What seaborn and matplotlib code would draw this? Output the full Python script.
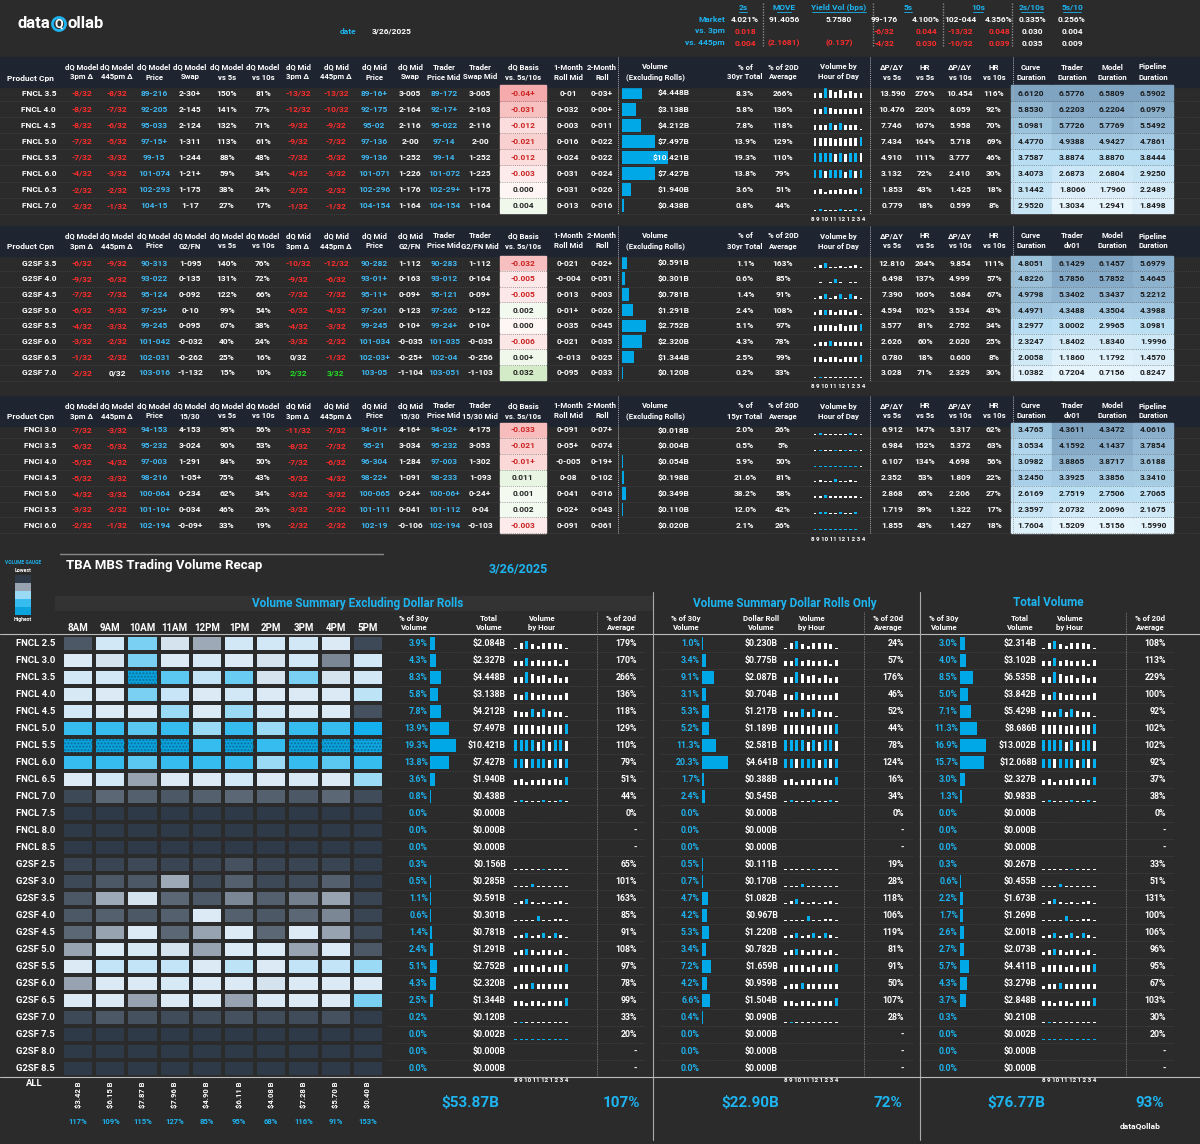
import numpy as np
import matplotlib
matplotlib.use("Agg")
import matplotlib.pyplot as plt
from matplotlib.patches import Rectangle
from matplotlib.colors import LinearSegmentedColormap, to_rgb
import seaborn as sns

sns.set_theme(style="dark")
plt.rcParams['font.family'] = ['Roboto', 'DejaVu Sans']

BG = '#2b2b2b'
HEAD = '#1e2531'
CYAN = '#1eb4f0'
BLUE = '#3fb8f2'
RED = '#ff2b2b'
GREEN = '#22dd22'
W, H = 1200, 1144

# ---------------- data: top tables ----------------
fncl_rows = [
    ["FNCL 3.5", "-8/32", "-8/32", "89-216", "2-30+", "150%", "81%", "-13/32", "-13/32", "89-16+", "3-005", "89-172", "3-005", "-0.04+", "0-01", "0-03+", 4.448, "8.3%", "266%", "13.590", "276%", "10.454", "116%", 6.6120, 6.5776, 6.5809, 6.5902],
    ["FNCL 4.0", "-8/32", "-7/32", "92-205", "2-145", "141%", "77%", "-12/32", "-10/32", "92-175", "2-164", "92-17+", "2-163", "-0.031", "0-032", "0-00+", 3.138, "5.8%", "136%", "10.476", "220%", "8.059", "92%", 5.8530, 6.2203, 6.2204, 6.0979],
    ["FNCL 4.5", "-8/32", "-6/32", "95-033", "2-124", "132%", "71%", "-9/32", "-9/32", "95-02", "2-116", "95-022", "2-116", "-0.012", "0-003", "0-011", 4.212, "7.8%", "118%", "7.746", "167%", "5.958", "70%", 5.0981, 5.7726, 5.7769, 5.5492],
    ["FNCL 5.0", "-7/32", "-5/32", "97-15+", "1-311", "113%", "61%", "-9/32", "-7/32", "97-136", "2-00", "97-14", "2-00", "-0.021", "0-016", "0-022", 7.497, "13.9%", "129%", "7.434", "164%", "5.718", "69%", 4.4770, 4.9388, 4.9427, 4.7861],
    ["FNCL 5.5", "-7/32", "-3/32", "99-15", "1-244", "88%", "48%", "-7/32", "-5/32", "99-136", "1-252", "99-14", "1-252", "-0.012", "0-024", "0-022", 10.421, "19.3%", "110%", "4.910", "111%", "3.777", "46%", 3.7587, 3.8874, 3.8870, 3.8444],
    ["FNCL 6.0", "-4/32", "-3/32", "101-074", "1-21+", "59%", "34%", "-4/32", "-3/32", "101-071", "1-226", "101-072", "1-225", "-0.003", "0-031", "0-024", 7.427, "13.8%", "79%", "3.132", "72%", "2.410", "30%", 3.4073, 2.6873, 2.6804, 2.9250],
    ["FNCL 6.5", "-2/32", "-2/32", "102-293", "1-175", "38%", "24%", "-2/32", "-2/32", "102-296", "1-176", "102-29+", "1-175", "0.000", "0-031", "0-026", 1.940, "3.6%", "51%", "1.853", "43%", "1.425", "18%", 3.1442, 1.8066, 1.7960, 2.2489],
    ["FNCL 7.0", "-2/32", "-1/32", "104-15", "1-17", "27%", "17%", "-1/32", "-1/32", "104-154", "1-164", "104-154", "1-164", "0.004", "0-013", "0-016", 0.438, "0.8%", "44%", "0.779", "18%", "0.599", "8%", 2.9520, 1.3034, 1.2941, 1.8498],
]
g2sf_rows = [
    ["G2SF 3.5", "-6/32", "-9/32", "90-313", "1-095", "140%", "76%", "-10/32", "-12/32", "90-282", "1-112", "90-283", "1-112", "-0.032", "0-021", "0-02+", 0.591, "1.1%", "163%", "12.810", "264%", "9.854", "111%", 4.8051, 6.1429, 6.1457, 5.6979],
    ["G2SF 4.0", "-9/32", "-6/32", "93-022", "0-135", "131%", "72%", "-9/32", "-6/32", "93-01+", "0-163", "93-012", "0-164", "-0.005", "-0-004", "0-051", 0.301, "0.6%", "85%", "6.498", "137%", "4.999", "57%", 4.8226, 5.7856, 5.7852, 5.4645],
    ["G2SF 4.5", "-7/32", "-7/32", "95-124", "0-092", "122%", "66%", "-7/32", "-7/32", "95-11+", "0-09+", "95-121", "0-09+", "-0.005", "0-013", "0-003", 0.781, "1.4%", "91%", "7.390", "160%", "5.684", "67%", 4.9798, 5.3402, 5.3437, 5.2212],
    ["G2SF 5.0", "-6/32", "-5/32", "97-25+", "0-10", "99%", "54%", "-6/32", "-4/32", "97-261", "0-123", "97-262", "0-122", "0.002", "0-01+", "0-026", 1.291, "2.4%", "108%", "4.594", "102%", "3.534", "43%", 4.4971, 4.3488, 4.3504, 4.3988],
    ["G2SF 5.5", "-4/32", "-3/32", "99-245", "0-095", "67%", "38%", "-4/32", "-3/32", "99-245", "0-10+", "99-24+", "0-10+", "0.000", "0-035", "0-045", 2.752, "5.1%", "97%", "3.577", "81%", "2.752", "34%", 3.2977, 3.0002, 2.9965, 3.0981],
    ["G2SF 6.0", "-3/32", "-2/32", "101-042", "-0-032", "40%", "24%", "-3/32", "-2/32", "101-034", "-0-035", "101-035", "-0-035", "-0.006", "0-021", "0-035", 2.320, "4.3%", "78%", "2.626", "60%", "2.020", "25%", 2.3247, 1.8402, 1.8340, 1.9996],
    ["G2SF 6.5", "-1/32", "-2/32", "102-031", "-0-262", "25%", "16%", "0/32", "-1/32", "102-03+", "-0-25+", "102-04", "-0-256", "0.00+", "-0-013", "0-025", 1.344, "2.5%", "99%", "0.780", "18%", "0.600", "8%", 2.0058, 1.1860, 1.1792, 1.4570],
    ["G2SF 7.0", "-2/32", "0/32", "103-016", "-1-132", "15%", "10%", "2/32", "3/32", "103-05", "-1-104", "103-051", "-1-103", "0.032", "0-095", "0-033", 0.120, "0.2%", "33%", "3.028", "71%", "2.329", "30%", 1.0382, 0.7204, 0.7156, 0.8247],
]
fnci_rows = [
    ["FNCI 3.0", "-7/32", "-3/32", "94-153", "4-153", "95%", "56%", "-11/32", "-7/32", "94-01+", "4-16+", "94-02+", "4-175", "-0.033", "0-091", "0-07+", 0.018, "2.0%", "26%", "6.912", "147%", "5.317", "62%", 3.4765, 4.3611, 4.3472, 4.0616],
    ["FNCI 3.5", "-6/32", "-5/32", "95-232", "3-024", "90%", "53%", "-8/32", "-7/32", "95-21", "3-034", "95-232", "3-053", "-0.021", "0-05+", "0-074", 0.004, "0.5%", "5%", "6.984", "152%", "5.372", "63%", 3.0534, 4.1592, 4.1437, 3.7854],
    ["FNCI 4.0", "-5/32", "-4/32", "97-003", "1-291", "84%", "50%", "-7/32", "-6/32", "96-304", "1-284", "97-003", "1-302", "-0.01+", "-0-005", "0-19+", 0.054, "5.9%", "50%", "6.107", "134%", "4.698", "56%", 3.0982, 3.8865, 3.8717, 3.6188],
    ["FNCI 4.5", "-5/32", "-3/32", "98-216", "1-05+", "75%", "43%", "-5/32", "-4/32", "98-22+", "1-091", "98-233", "1-093", "0.011", "0-08", "0-102", 0.198, "21.6%", "81%", "2.352", "53%", "1.809", "22%", 3.2450, 3.3925, 3.3856, 3.3410],
    ["FNCI 5.0", "-4/32", "-3/32", "100-064", "0-234", "62%", "34%", "-3/32", "-3/32", "100-065", "0-24+", "100-06+", "0-24+", "0.001", "0-041", "0-016", 0.349, "38.2%", "58%", "2.868", "65%", "2.206", "27%", 2.6169, 2.7519, 2.7506, 2.7065],
    ["FNCI 5.5", "-3/32", "-2/32", "101-10+", "0-034", "46%", "26%", "-3/32", "-2/32", "101-111", "0-041", "101-112", "0-04", "0.002", "0-02+", "0-043", 0.110, "12.0%", "42%", "1.719", "39%", "1.322", "17%", 2.3597, 2.0732, 2.0696, 2.1675],
    ["FNCI 6.0", "-2/32", "-1/32", "102-194", "-0-09+", "33%", "19%", "-2/32", "-2/32", "102-19", "-0-106", "102-194", "-0-103", "-0.003", "0-091", "0-061", 0.020, "2.1%", "26%", "1.855", "43%", "1.427", "18%", 1.7604, 1.5209, 1.5156, 1.5990],
]
fnci_hourly = [
    [0.1, 0.2, 0.1, 0.1, 0.1, 0.1, 0.1, 0.2, 0.1, 0.0],
    [0.0, 0.1, 0.0, 0.0, 0.1, 0.0, 0.1, 0.0, 0.1, 0.0],
    [0.1, 0.1, 0.1, 0.1, 0.1, 0.1, 0.1, 0.1, 0.1, 0.0],
    [0.2, 0.3, 0.2, 0.2, 0.4, 0.2, 0.2, 0.3, 0.2, 0.0],
    [0.2, 0.3, 0.4, 0.3, 0.2, 0.3, 0.2, 0.3, 0.3, 0.1],
    [0.1, 0.2, 0.2, 0.1, 0.1, 0.2, 0.1, 0.1, 0.2, 0.0],
    [0.1, 0.1, 0.1, 0.1, 0.1, 0.1, 0.1, 0.1, 0.1, 0.0],
]

base_headers = ["dQ Model\n3pm Δ", "dQ Model\n445pm Δ", "dQ Model\nPrice", "dQ Model\nSwap", "dQ Model\nvs 5s",
                "dQ Model\nvs 10s", "dQ Mid\n3pm Δ", "dQ Mid\n445pm Δ", "dQ Mid\nPrice", "dQ Mid\nSwap",
                "Trader\nPrice Mid", "Trader\nSwap Mid", "dQ Basis\nvs. 5s/10s", "1-Month\nRoll Mid", "2-Month\nRoll",
                "Volume\n(Excluding Rolls)", "% of\n30yr Total", "% of 20D\nAverage", "ΔP/ΔY\nvs 5s", "HR\nvs 5s",
                "ΔP/ΔY\nvs 10s", "HR\nvs 10s", "Curve\nDuration", "Trader\nDuration", "Model\nDuration", "Pipeline\nDuration"]

# ---------------- data: volume recap ----------------
products = ["FNCL 2.5", "FNCL 3.0", "FNCL 3.5", "FNCL 4.0", "FNCL 4.5", "FNCL 5.0", "FNCL 5.5", "FNCL 6.0", "FNCL 6.5",
            "FNCL 7.0", "FNCL 7.5", "FNCL 8.0", "FNCL 8.5", "G2SF 2.5", "G2SF 3.0", "G2SF 3.5", "G2SF 4.0", "G2SF 4.5",
            "G2SF 5.0", "G2SF 5.5", "G2SF 6.0", "G2SF 6.5", "G2SF 7.0", "G2SF 7.5", "G2SF 8.0", "G2SF 8.5"]
hours = ["8AM", "9AM", "10AM", "11AM", "12PM", "1PM", "2PM", "3PM", "4PM", "5PM"]
heat = [
    [0.08, 0.55, 0.75, 0.48, 0.3, 0.55, 0.55, 0.55, 0.5, 0.04],
    [0.5, 0.48, 0.75, 0.5, 0.52, 0.5, 0.48, 0.55, 0.2, 0.55],
    [0.55, 0.55, 1.0, 0.8, 0.62, 0.78, 0.48, 0.75, 0.48, 0.55],
    [0.52, 0.5, 0.75, 0.6, 0.5, 0.55, 0.5, 0.5, 0.5, 0.65],
    [0.55, 0.5, 0.5, 0.7, 0.5, 0.7, 0.55, 0.5, 0.5, 0.06],
    [0.85, 0.85, 0.8, 0.85, 0.7, 0.85, 0.7, 0.85, 0.85, 0.9],
    [1.0, 1.0, 1.0, 1.0, 0.85, 1.0, 0.85, 1.0, 1.0, 0.95],
    [0.85, 0.85, 0.8, 0.85, 0.85, 0.85, 0.7, 0.85, 0.8, 0.85],
    [0.5, 0.55, 0.28, 0.5, 0.5, 0.55, 0.5, 0.52, 0.5, 0.7],
    [0.04, 0.12, 0.1, 0.08, 0.1, 0.12, 0.1, 0.08, 0.12, 0.05],
    [0.0] * 10, [0.0] * 10, [0.0] * 10,
    [0.03, 0.03, 0.04, 0.03, 0.03, 0.06, 0.03, 0.03, 0.03, 0.01],
    [0.04, 0.08, 0.08, 0.3, 0.04, 0.1, 0.04, 0.05, 0.1, 0.01],
    [0.08, 0.3, 0.48, 0.12, 0.08, 0.2, 0.1, 0.18, 0.28, 0.03],
    [0.08, 0.1, 0.08, 0.1, 0.5, 0.1, 0.08, 0.12, 0.2, 0.03],
    [0.12, 0.28, 0.5, 0.12, 0.28, 0.5, 0.12, 0.5, 0.28, 0.04],
    [0.28, 0.5, 0.52, 0.48, 0.28, 0.5, 0.5, 0.28, 0.5, 0.08],
    [0.5, 0.62, 0.62, 0.62, 0.5, 0.65, 0.5, 0.62, 0.62, 0.7],
    [0.28, 0.5, 0.5, 0.52, 0.5, 0.5, 0.48, 0.5, 0.5, 0.5],
    [0.5, 0.5, 0.28, 0.5, 0.5, 0.28, 0.5, 0.5, 0.5, 0.75],
    [0.04, 0.08, 0.06, 0.05, 0.05, 0.06, 0.05, 0.05, 0.06, 0.01],
    [0.0] * 10, [0.0] * 10, [0.0] * 10,
]
ex_pct = [3.9, 4.3, 8.3, 5.8, 7.8, 13.9, 19.3, 13.8, 3.6, 0.8, 0, 0, 0, 0.3, 0.5, 1.1, 0.6, 1.4, 2.4, 5.1, 4.3, 2.5, 0.2, 0, 0, 0]
ex_vol = [2.084, 2.327, 4.448, 3.138, 4.212, 7.497, 10.421, 7.427, 1.940, 0.438, 0, 0, 0, 0.156, 0.285, 0.591, 0.301,
          0.781, 1.291, 2.752, 2.320, 1.344, 0.120, 0.002, 0, 0]
ex_avg = ["179%", "170%", "266%", "136%", "118%", "129%", "110%", "79%", "51%", "44%", "0%", "-", "-", "65%", "101%",
          "163%", "85%", "91%", "108%", "97%", "78%", "99%", "33%", "20%", "-", "-"]
roll_pct = [1.0, 3.4, 9.1, 3.1, 5.3, 5.2, 11.3, 20.3, 1.7, 2.4, 0, 0, 0, 0.5, 0.7, 4.7, 4.2, 5.3, 3.4, 7.2, 4.2, 6.6, 0.4, 0, 0, 0]
roll_vol = [0.230, 0.775, 2.087, 0.704, 1.217, 1.189, 2.581, 4.641, 0.388, 0.545, 0, 0, 0, 0.111, 0.170, 1.082, 0.967,
            1.220, 0.782, 1.659, 0.959, 1.504, 0.090, 0, 0, 0]
roll_avg = ["24%", "57%", "176%", "46%", "52%", "44%", "78%", "124%", "16%", "34%", "0%", "-", "-", "19%", "28%", "118%",
            "106%", "119%", "81%", "91%", "50%", "107%", "28%", "-", "-", "-"]
tot_pct = [3.0, 4.0, 8.5, 5.0, 7.1, 11.3, 16.9, 15.7, 3.0, 1.3, 0, 0, 0, 0.3, 0.6, 2.2, 1.7, 2.6, 2.7, 5.7, 4.3, 3.7, 0.3, 0, 0, 0]
tot_vol = [2.314, 3.102, 6.535, 3.842, 5.429, 8.686, 13.002, 12.068, 2.327, 0.983, 0, 0, 0, 0.267, 0.455, 1.673, 1.269,
           2.001, 2.073, 4.411, 3.279, 2.848, 0.210, 0.002, 0, 0]
tot_avg = ["108%", "113%", "229%", "100%", "92%", "102%", "102%", "92%", "37%", "38%", "0%", "-", "-", "33%", "51%",
           "131%", "100%", "106%", "96%", "95%", "67%", "103%", "30%", "20%", "-", "-"]
hour_totals = ["$3.42 B", "$6.15 B", "$7.87 B", "$7.96 B", "$4.90 B", "$6.11 B", "$4.08 B", "$7.28 B", "$5.70 B", "$0.40 B"]
hour_pcts = ["117%", "109%", "115%", "127%", "85%", "95%", "68%", "116%", "91%", "153%"]
grand = [("$53.87B", "107%"), ("$22.90B", "72%"), ("$76.77B", "93%")]

# ---------------- figure ----------------
fig = plt.figure(figsize=(W / 100, H / 100), dpi=100, facecolor=BG)
ax = fig.add_axes([0, 0, 1, 1])
ax.set_xlim(0, W)
ax.set_ylim(H, 0)
ax.axis('off')
ax.patch.set_alpha(0)
ax.set_zorder(10)


def px_axes(x0, y0, w, h):
    a = fig.add_axes([x0 / W, 1 - (y0 + h) / H, w / W, h / H])
    a.set_facecolor('none')
    a.axis('off')
    return a


def t(x, y, s, size=6, color='white', ha='center', weight='bold', **kw):
    ax.text(x, y, s, fontsize=size, color=color, ha=ha, va='center', fontweight=weight, **kw)


def mix(c, k):
    c = np.array(to_rgb(c))
    return tuple(1 - k * (1 - c))


# header
t(18, 24, "data", size=12, ha='left')
ax.add_patch(plt.Circle((59, 24), 6.5, fill=False, ec=CYAN, lw=2))
t(59, 24, "Q", size=9, color='white')
t(67, 24, "ollab", size=12, ha='left')
t(340, 31, "date", color=CYAN, ha='left')
t(372, 31, "3/26/2025", ha='left')
mk_heads = [(743, "2s"), (784, "MOVE"), (839, "Yield Vol (bps)"), (908, "5s"), (978, "10s"), (1032, "2s/10s"), (1072, "5s/10")]
for x, s in mk_heads:
    t(x, 7, s, color=CYAN)
    ax.plot([x - len(s) * 1.8, x + len(s) * 1.8], [12, 12], color=CYAN, lw=0.6)
mk_rows = [("Market", 19, ["4.021%", "91.4056", "5.7580", "99-176", "4.100%", "102-044", "4.356%", "0.335%", "0.256%"]),
           ("vs. 3pm", 31, ["0.018", "", "", "-6/32", "0.044", "-13/32", "0.048", "0.030", "0.004"]),
           ("vs. 445pm", 43, ["0.004", "(2.1681)", "(0.137)", "-4/32", "0.030", "-10/32", "0.039", "0.035", "0.009"])]
mk_x = [745, 784, 839, 884, 926, 960, 999, 1032, 1072]
for lab, y, vals in mk_rows:
    t(725, y, lab, color=CYAN, ha='right')
    for j, (x, v) in enumerate(zip(mk_x, vals)):
        c = 'white' if (lab == "Market" or j >= 7) else RED
        t(x, y, v, color=c)
for x in [763, 873, 943, 1012]:
    ax.plot([x, x], [3, 47], color='#888888', lw=1, ls=(0, (1, 1)))

col_x = [82, 117, 154, 190, 227, 263, 298, 336, 374, 410, 444, 480, 523, 568, 602]
right_x = [745, 783, 892, 925, 960, 994, 1031, 1072, 1112, 1153]
dur_cmap = LinearSegmentedColormap.from_list("dur", ['#e6f4fc', '#b5dcf2', '#7fa4c2'])
heat_of = {p: h for p, h in zip(products, heat)}


def draw_table(rows, band_top, first_y, step, headers, hourly, vol_lim):
    n = len(rows)
    ax.add_patch(Rectangle((0, band_top), W, 30, color=HEAD, zorder=0))
    hy = band_top + 15
    t(30, hy + 6, "Product Cpn")
    xs = col_x + [655] + right_x[:2] + right_x[2:]
    for x, hd in zip(xs, headers):
        t(x, hy, hd, size=5.6, linespacing=1.5)
    t(838, hy, "Volume by\nHour of Day", size=5.6, linespacing=1.5)
    allv = np.array([r[23:27] for r in rows], dtype=float)
    vmin, vmax = allv.min(), allv.max()
    ys = [first_y + i * step for i in range(n)]
    for r, y in zip(rows, ys):
        t(56, y, r[0], ha='right')
        for j in range(1, 16):
            s = r[j]
            c = 'white'
            if j in (1, 2, 7, 8):
                c = RED if s.startswith('-') else (GREEN if not s.startswith('0') else 'white')
            if j in (3, 9, 11):
                c = BLUE
            if j == 13:
                v = float(s.replace('+', '5'))
                k = min(1, 0.12 + abs(v) * 12)
                fc = mix('#f08080', k) if v < 0 else (mix('#a8d890', k) if v > 0 else mix('#f08080', 0.08))
                ax.add_patch(Rectangle((500, y - step / 2 + 0.5), 46, step - 1, color=fc, zorder=1))
                c = '#cc2222' if v < 0 else '#222222'
            t(col_x[j - 1], y, s, color=c, zorder=3)
        t(690, y, "$%.3fB" % r[16], ha='right', zorder=4)
        for x, v in zip(right_x, [r[17], r[18], r[19], r[20], r[21], r[22]]):
            t(x, y, v)
        for k, v in enumerate(r[23:27]):
            x = right_x[6 + k]
            ax.add_patch(Rectangle((x - 20, y - step / 2 + 0.5), 40, step - 1,
                                   color=dur_cmap((v - vmin) / (vmax - vmin)), zorder=1))
            t(x, y, "%.4f" % v, color='#1a1a1a', zorder=3)
        ax.plot([0, W], [y + step / 2, y + step / 2], color='#555555', lw=0.5, ls=(0, (1, 2)))
    top = first_y - step / 2
    va = px_axes(622, top, 68, n * step)
    va.barh(np.arange(n), [r[16] for r in rows], height=0.8, color='#00a8e8', edgecolor='none', linewidth=0)
    va.set_xlim(0, vol_lim)
    va.set_ylim(n - 0.5, -0.5)
    sa = px_axes(812, top, 52, n * step)
    for i, h in enumerate(hourly):
        arr = np.array(h)
        cols = ['#00b0f0' if v == arr.max() and v > 0 else 'white' for v in arr]
        sa.bar(np.arange(10), -np.maximum(arr * 0.6, 0.04), bottom=i + 0.8, width=0.55, color=cols,
               edgecolor='none', linewidth=0)
    sa.set_xlim(-0.6, 9.6)
    sa.set_ylim(n, 0)
    for x in [618, 870, 1013]:
        ax.plot([x, x], [band_top, top + n * step], color='#aaaaaa', lw=0.7, ls=(0, (1, 1)))
    t(838, top + n * step + 6, "8 9 10 11 12 1 2 3 4", size=4.5)


h1 = list(base_headers)
draw_table(fncl_rows, 57, 93, 16.1, h1, [heat_of[r[0]] for r in fncl_rows], 15.4)
h2 = list(base_headers)
h2[3], h2[9], h2[11], h2[23] = "dQ Model\nG2/FN", "dQ Mid\nG2/FN", "Trader\nG2/FN Mid", "Trader\ndv01"
draw_table(g2sf_rows, 226, 263, 15.7, h2, [heat_of[r[0]] for r in g2sf_rows], 7.8)
h3 = list(base_headers)
h3[3], h3[9], h3[11], h3[16], h3[23] = "dQ Model\n15/30", "dQ Mid\n15/30", "Trader\n15/30 Mid", "% of\n15yr Total", "Trader\ndv01"
draw_table(fnci_rows, 396, 430, 15.9, h3, fnci_hourly, 6.0)

# ---------------- recap ----------------
ax.plot([60, 383], [554, 554], color='#888888', lw=1)
t(66, 566, "TBA MBS Trading Volume Recap", size=9.5, ha='left')
t(518, 570, "3/26/2025", size=9, color=CYAN)
t(23, 563, "VOLUME GAUGE", size=3.5, color=CYAN)
t(23, 570, "Lowest", size=3.8)
t(23, 620, "Highest", size=3.8)

gauge_cmap = LinearSegmentedColormap.from_list(
    "vol", [(0, '#2f3a48'), (0.25, '#8e9aa8'), (0.5, '#dceaf6'), (0.65, '#bde3f6'),
            (0.8, '#5bc8f2'), (0.9, '#14b1ee'), (1, '#0aa3dd')])
ga = px_axes(15, 575, 16, 40)
sns.heatmap(np.array([[0.0], [0.28], [0.7], [0.85], [1.0]]), ax=ga, cmap=gauge_cmap, vmin=0, vmax=1, cbar=False,
            xticklabels=False, yticklabels=False)

ax.add_patch(Rectangle((55, 596), 598, 14, color='#333333', zorder=0))
t(358, 603, "Volume Summary Excluding Dollar Rolls", size=8.5, color=CYAN)
t(785, 603, "Volume Summary Dollar Rolls Only", size=8.5, color=CYAN)
t(1048, 603, "Total Volume", size=8.5, color=CYAN)

row0, step = 635, 17.0
n = len(products)
ha_ = px_axes(62, row0, 322, n * step)
ha_.axis('on')
sns.heatmap(np.array(heat), ax=ha_, cmap=gauge_cmap, vmin=0, vmax=1, cbar=False, linewidths=1.6, linecolor=BG,
            xticklabels=False, yticklabels=False)
for i, row in enumerate(heat):
    for j, v in enumerate(row):
        if v >= 0.95:
            ha_.add_patch(Rectangle((j + 0.05, i + 0.05), 0.9, 0.9, fill=False, hatch='.....', ec='#0b6f9a', lw=0))
for j, hr in enumerate(hours):
    t(62 + (j + 0.5) * 32.2, 628, hr, size=7)
ax.plot([0, W], [634, 634], color='#bbbbbb', lw=0.8)

groups = [
    (ex_pct, ex_vol, ex_avg, 428, 506, 512, 637, "Total\nVolume"),
    (roll_pct, roll_vol, roll_avg, 700, 778, 782, 904, "Dollar Roll\nVolume"),
    (tot_pct, tot_vol, tot_avg, 958, 1037, 1040, 1166, "Total\nVolume"),
]
for pct, vol, avg, px, vx, sx, ax_, h_vol in groups:
    t(px - 14, 623, "% of 30y\nVolume", size=5.6, linespacing=1.4)
    t(vx - 17, 623, h_vol, size=5.6, linespacing=1.4)
    t(sx + 30, 623, "Volume\nby Hour", size=5.6, linespacing=1.4)
    t(ax_ - 16, 623, "% of 20d\nAverage", size=5.6, linespacing=1.4)
    for i in range(n):
        y = row0 + (i + 0.5) * step
        t(px, y, "%.1f%%" % pct[i], color=CYAN, ha='right', size=6.3)
        t(vx, y, "$%.3fB" % vol[i], ha='right', size=6.3)
        t(ax_, y, avg[i], ha='right', size=6.3)
        ax.plot([px - 40, ax_ + 8], [y + step / 2, y + step / 2], color='#666666', lw=0.4, ls=(0, (1, 2)))
    pa = px_axes(px + 2, row0, 26, n * step)
    pa.barh(np.arange(n), pct, height=0.75, color='#00a8e8', edgecolor='none', linewidth=0)
    pa.set_xlim(0, max(pct))
    pa.set_ylim(n - 0.5, -0.5)
    sa = px_axes(sx, row0, 58, n * step)
    for i, (h, v) in enumerate(zip(heat, vol)):
        if v <= 0:
            continue
        arr = np.array(h)
        cols = ['#00b0f0' if a == arr.max() else 'white' for a in arr]
        sa.bar(np.arange(10), -np.maximum(arr * 0.6, 0.04), bottom=i + 0.8, width=0.55, color=cols,
               edgecolor='none', linewidth=0)
    sa.set_xlim(-0.6, 9.6)
    sa.set_ylim(n, 0)
    t(sx + 29, 1080, "8 9 10 11 12 1 2 3 4", size=4.5)
    ax.plot([ax_ - 40, ax_ - 40], [612, 1076], color='#888888', lw=0.6, ls=(0, (1, 1)))
for x in [653, 920]:
    ax.plot([x, x], [592, 1140], color='#aaaaaa', lw=0.8)

for i, p in enumerate(products):
    t(55, row0 + (i + 0.5) * step, p, ha='right', size=6.8)
t(34, 1083, "ALL", size=6.8)
ax.plot([0, W], [1077, 1077], color='#bbbbbb', lw=0.8)
for j, (s, pc) in enumerate(zip(hour_totals, hour_pcts)):
    x = 62 + (j + 0.5) * 32.2
    ax.text(x, 1095, s, fontsize=5.5, color='white', rotation=90, ha='center', va='center', fontweight='bold')
    t(x, 1121, pc, size=5.5, color=CYAN)
for (s, pc), x, xp in zip(grand, [470, 750, 1016], [621, 888, 1150]):
    t(x, 1103, s, size=11, color=CYAN)
    t(xp, 1103, pc, size=11, color=CYAN)
t(1140, 1126, "dataQollab", size=6)

fig.savefig("out.png", dpi=100, facecolor=BG)
